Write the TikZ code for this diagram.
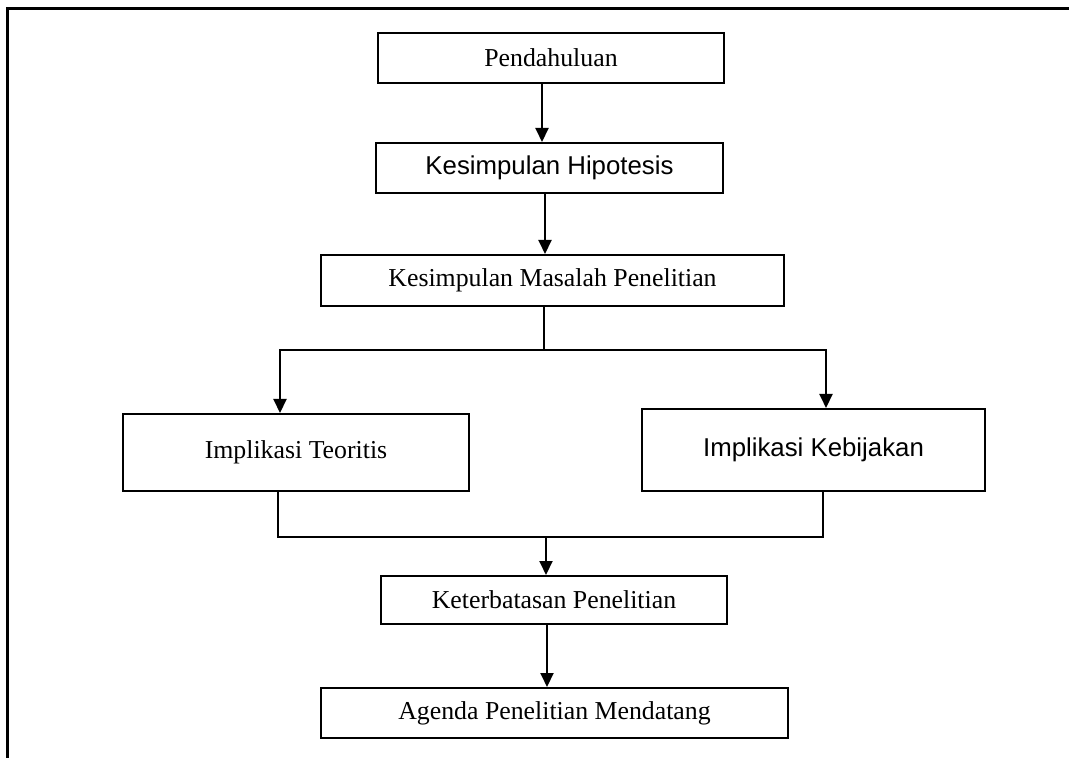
\documentclass[tikz,border=0pt]{standalone}
\usepackage{fontspec}
\setmainfont{Liberation Serif}
\newfontfamily\arialf{Liberation Sans}
\usetikzlibrary{arrows.meta}
\begin{document}
\begin{tikzpicture}[x=0.5pt,y=-0.5pt,
  box/.style={draw, line width=1pt, rectangle, inner sep=0pt, anchor=center,
    font=\fontsize{12.9}{15}\selectfont},
  link/.style={line width=1pt},
  flow/.style={line width=1pt, -{Triangle[length=7pt,width=6.5pt]}}]
\useasboundingbox (0,0) rectangle (1069,758);
% open frame: left and top sides only
\draw[line width=1.5pt] (7.5,758) -- (7.5,8.5) -- (1069,8.5);

\node[box, minimum width=173pt, minimum height=25pt] (pend) at (551,58) {Pendahuluan};
\node[box, minimum width=173.5pt, minimum height=25pt] (hip) at (549.5,168) {\arialf Kesimpulan Hipotesis};
\node[box, minimum width=231.5pt, minimum height=25.5pt] (mas) at (552.5,280.5) {Kesimpulan Masalah Penelitian};
\node[box, minimum width=173pt, minimum height=38.5pt] (teo) at (296,452.5) {Implikasi Teoritis};
\node[box, minimum width=171.5pt, minimum height=41pt] (keb) at (813.5,450) {\arialf Implikasi Kebijakan};
\node[box, minimum width=173pt, minimum height=24pt] (ket) at (554,600) {Keterbatasan Penelitian};
\node[box, minimum width=233.5pt, minimum height=25pt] (age) at (554.5,713) {Agenda Penelitian Mendatang};

\coordinate (split) at (544,350);
\coordinate (join) at (546,537);

\draw[flow] ([xshift=-4.5pt]pend.south) -- ([xshift=-4.5pt]pend.south |- hip.north);
\draw[flow] ([xshift=-2.25pt]hip.south) -- ([xshift=-2.25pt]hip.south |- mas.north);
\draw[link] ([xshift=-4.25pt]mas.south) -- (split);
\draw[flow] (split) -| ([xshift=-8pt]teo.north);
\draw[flow] (split) -| ([xshift=6.25pt]keb.north);
\draw[link] ([xshift=-9pt]teo.south) |- (join) -| ([xshift=4.75pt]keb.south);
\draw[flow] (join) -- (join |- ket.north);
\draw[flow] ([xshift=-3.5pt]ket.south) -- ([xshift=-3.5pt]ket.south |- age.north);
\end{tikzpicture}
\end{document}
